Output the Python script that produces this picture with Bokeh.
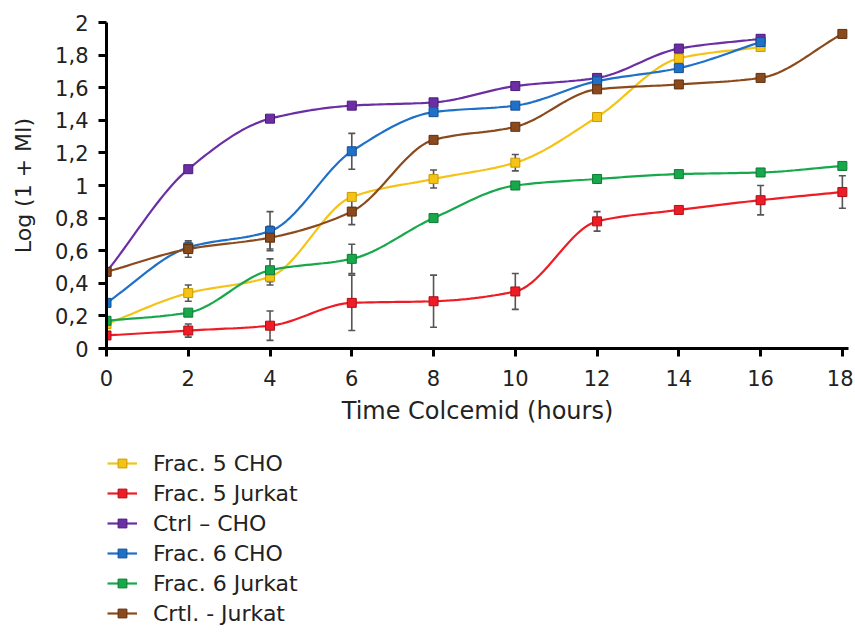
import numpy as np
from bokeh.plotting import figure
from bokeh.layouts import column
from bokeh.models import (Range1d, FixedTicker, Legend, LegendItem, Whisker,
                          ColumnDataSource, TeeHead)
from bokeh.embed import file_html
from bokeh.resources import INLINE

# ---- data ----
hours = [0, 2, 4, 6, 8, 10, 12, 14, 16, 18]

frac5_cho = [0.15, 0.34, 0.44, 0.93, 1.04, 1.14, 1.42, 1.78, 1.85]
frac5_cho_err = [0, 0.05, 0.05, 0, 0.055, 0.05, 0, 0, 0]

frac5_jurkat = [0.08, 0.11, 0.14, 0.28, 0.29, 0.35, 0.78, 0.85, 0.91, 0.96]
frac5_jurkat_err = [0, 0.04, 0.09, 0.17, 0.16, 0.11, 0.06, 0.02, 0.09, 0.10]

ctrl_cho = [0.47, 1.10, 1.41, 1.49, 1.51, 1.61, 1.66, 1.84, 1.90]
ctrl_cho_err = [0, 0, 0, 0, 0, 0, 0, 0, 0]

frac6_cho = [0.28, 0.62, 0.72, 1.21, 1.45, 1.49, 1.64, 1.72, 1.88]
frac6_cho_err = [0, 0.03, 0.12, 0.11, 0, 0, 0, 0, 0]

frac6_jurkat = [0.17, 0.22, 0.48, 0.55, 0.80, 1.00, 1.04, 1.07, 1.08, 1.12]
frac6_jurkat_err = [0, 0, 0.07, 0.09, 0, 0, 0, 0, 0, 0]

ctrl_jurkat = [0.47, 0.61, 0.68, 0.84, 1.28, 1.36, 1.59, 1.62, 1.66, 1.93]
ctrl_jurkat_err = [0, 0.05, 0.07, 0.08, 0, 0, 0, 0, 0, 0]

labels = ["Frac. 5 CHO", "Frac. 5 Jurkat", "Ctrl \u2013 CHO",
          "Frac. 6 CHO", "Frac. 6 Jurkat", "Crtl. - Jurkat"]
series = [frac5_cho, frac5_jurkat, ctrl_cho, frac6_cho, frac6_jurkat, ctrl_jurkat]
errors = [frac5_cho_err, frac5_jurkat_err, ctrl_cho_err, frac6_cho_err,
          frac6_jurkat_err, ctrl_jurkat_err]
colors = ["#F4C316", "#EE1C25", "#6B2FA3", "#1E70C8", "#17A84B", "#8B4A1C"]
outlines = ["#C89A00", "#B0101A", "#4A1A7A", "#15508F", "#0F7A35", "#5E3010"]

y_ticks = [0, 0.2, 0.4, 0.6, 0.8, 1, 1.2, 1.4, 1.6, 1.8, 2]
y_tick_labels = ["0", "0,2", "0,4", "0,6", "0,8", "1", "1,2", "1,4", "1,6", "1,8", "2"]
x_ticks = [0, 2, 4, 6, 8, 10, 12, 14, 16, 18]


def monotone(xs, ys, n=20):
    """Monotone cubic (Fritsch-Carlson) path through the data points."""
    xs = np.asarray(xs, float)
    ys = np.asarray(ys, float)
    h = np.diff(xs)
    d = np.diff(ys) / h
    m = np.zeros_like(ys)
    m[0], m[-1] = d[0], d[-1]
    for i in range(1, len(ys) - 1):
        if d[i - 1] * d[i] <= 0:
            m[i] = 0
        else:
            w1 = 2 * h[i] + h[i - 1]
            w2 = h[i] + 2 * h[i - 1]
            m[i] = (w1 + w2) / (w1 / d[i - 1] + w2 / d[i])
    px, py = [], []
    for i in range(len(xs) - 1):
        t = np.linspace(0, 1, n, endpoint=(i == len(xs) - 2))
        h00 = 2 * t**3 - 3 * t**2 + 1
        h10 = t**3 - 2 * t**2 + t
        h01 = -2 * t**3 + 3 * t**2
        h11 = t**3 - t**2
        px.extend(xs[i] + t * h[i])
        py.extend(h00 * ys[i] + h10 * h[i] * m[i] + h01 * ys[i + 1] + h11 * h[i] * m[i + 1])
    return px, py


FONT = "DejaVu Sans"

p = figure(output_backend="svg", toolbar_location=None,
           frame_width=742, frame_height=326,
           min_border_left=106, min_border_top=22, min_border_right=5,
           min_border_bottom=90,
           x_range=Range1d(0, 18.15), y_range=Range1d(0, 2.0),
           background_fill_color="white", border_fill_color="white")
p.outline_line_color = None
p.grid.visible = False

# axes
for ax in (p.xaxis[0], p.yaxis[0]):
    ax.axis_line_width = 3
    ax.axis_line_color = "black"
    ax.major_tick_line_width = 3
    ax.major_tick_line_color = "black"
    ax.major_tick_in = 0
    ax.major_tick_out = 8
    ax.minor_tick_line_color = None
    ax.major_label_text_font = FONT
    ax.major_label_text_font_size = "21px"
    ax.major_label_text_color = "#222222"
    ax.axis_label_text_font = FONT
    ax.axis_label_text_font_size = "23px"
    ax.axis_label_text_font_style = "normal"
    ax.axis_label_text_color = "#222222"

p.xaxis.ticker = FixedTicker(ticks=x_ticks)
p.xaxis.axis_label = "Time Colcemid (hours)"
p.xaxis.axis_label_text_font_size = "24px"
p.xaxis.major_label_standoff = 13
p.xaxis.axis_label_standoff = 8
p.yaxis.ticker = FixedTicker(ticks=y_ticks)
p.yaxis.major_label_overrides = {t: l for t, l in zip(y_ticks, y_tick_labels)}
p.yaxis.axis_label = "Log (1 + MI)"
p.yaxis.axis_label_text_font_size = "22px"
p.yaxis.major_label_standoff = 10
p.yaxis.axis_label_standoff = 16

# legend panel (a second, axis-less figure holding only the legend)
p2 = figure(output_backend="svg", toolbar_location=None,
            width=853, height=194,
            min_border_left=87, min_border_top=0, min_border_right=0,
            min_border_bottom=0,
            x_range=Range1d(0, 1), y_range=Range1d(0, 1),
            background_fill_color="white", border_fill_color="white")
p2.outline_line_color = None
p2.axis.visible = False
p2.grid.visible = False

# off-range swatch position: the swatch renderers are never visible, they only
# provide the legend glyph styling
swatch_x = [-5, -4]
swatch_y = [-5, -5]

items = []
for lab, ys, errs, col, oc in zip(labels, series, errors, colors, outlines):
    xs = hours[:len(ys)]
    cx, cy = monotone(xs, ys)
    p.line(cx, cy, line_color=col, line_width=2.2)
    ex = [x for x, e in zip(xs, errs) if e > 0]
    eu = [y + e for y, e in zip(ys, errs) if e > 0]
    el = [y - e for y, e in zip(ys, errs) if e > 0]
    if ex:
        src = ColumnDataSource(dict(x=ex, upper=eu, lower=el))
        w = Whisker(base="x", upper="upper", lower="lower", source=src,
                    line_color="#555555", line_width=1.6,
                    upper_head=TeeHead(size=7, line_color="#555555", line_width=1.6),
                    lower_head=TeeHead(size=7, line_color="#555555", line_width=1.6))
        p.add_layout(w)
    p.scatter(xs, ys, marker="square", size=9, fill_color=col,
              line_color=oc, line_width=1)
    lr2 = p2.line(swatch_x, swatch_y, line_color=col, line_width=2.2)
    sr2 = p2.scatter(swatch_x[:1], swatch_y[:1], marker="square", size=9,
                     fill_color=col, line_color=oc, line_width=1)
    items.append(LegendItem(label=lab, renderers=[lr2, sr2]))

legend = Legend(items=items, location=(1, 4), orientation="vertical")
legend.border_line_color = None
legend.background_fill_alpha = 0
legend.label_text_font = FONT
legend.label_text_font_size = "22px"
legend.label_text_color = "#222222"
legend.glyph_width = 30
legend.glyph_height = 22
legend.label_height = 30
legend.label_standoff = 16
legend.spacing = 0
legend.padding = 0
legend.margin = 0
p2.add_layout(legend, "center")

layout = column(p, p2, spacing=0)
open("out.html", "w").write(file_html(layout, INLINE))
